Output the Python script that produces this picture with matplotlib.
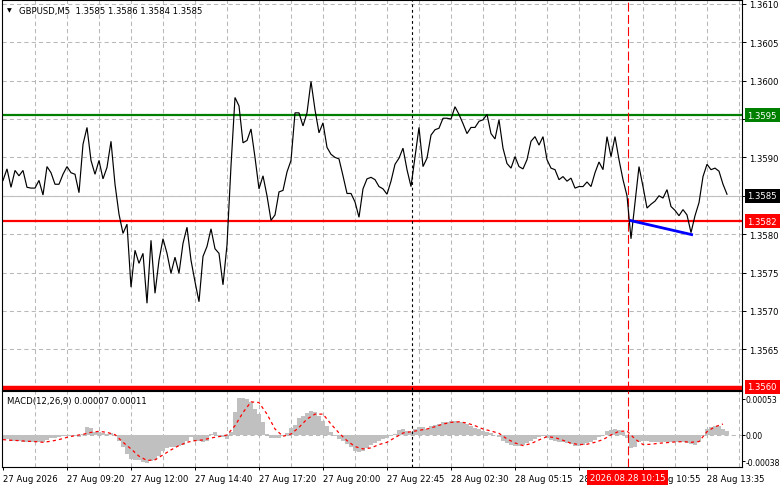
import numpy as np
import matplotlib
matplotlib.use('Agg')
import matplotlib.pyplot as plt
import matplotlib.transforms as mtransforms

plt.rcParams['font.family'] = ['DejaVu Sans']
plt.rcParams['axes.unicode_minus'] = False

# ---------------- data ----------------
symbol_title = "GBPUSD,M5  1.3585 1.3586 1.3584 1.3585"
macd_title = "MACD(12,26,9) 0.00007 0.00011"

price_step_bars = 2   # one sample every 2 M5 bars
close_prices = [
    1.35870, 1.35885, 1.35861, 1.35883, 1.35876, 1.35883, 1.35861, 1.35860, 1.35860, 1.35870,
    1.35851, 1.35888, 1.35880, 1.35865, 1.35865, 1.35878, 1.35888, 1.35880, 1.35878, 1.35854,
    1.35917, 1.35939, 1.35896, 1.35878, 1.35896, 1.35872, 1.35887, 1.35921, 1.35865, 1.35826,
    1.35801, 1.35813, 1.35731, 1.35779, 1.35762, 1.35775, 1.35710, 1.35792, 1.35723, 1.35766,
    1.35794, 1.35775, 1.35749, 1.35770, 1.35749, 1.35788, 1.35809, 1.35766, 1.35738, 1.35712,
    1.35771, 1.35784, 1.35807, 1.35781, 1.35775, 1.35734, 1.35786, 1.35889, 1.35978, 1.35967,
    1.35919, 1.35922, 1.35937, 1.35900, 1.35859, 1.35876, 1.35850, 1.35818, 1.35825, 1.35855,
    1.35857, 1.35881, 1.35896, 1.35958, 1.35958, 1.35941, 1.35958, 1.35999, 1.35962, 1.35932,
    1.35945, 1.35913, 1.35904, 1.35900, 1.35898, 1.35876, 1.35853, 1.35853, 1.35842, 1.35822,
    1.35859, 1.35872, 1.35874, 1.35871, 1.35862, 1.35859, 1.35852, 1.35869, 1.35891, 1.35899,
    1.35912, 1.35884, 1.35862, 1.35901, 1.35939, 1.35888, 1.35899, 1.35929, 1.35936, 1.35938,
    1.35951, 1.35951, 1.35950, 1.35966, 1.35956, 1.35944, 1.35931, 1.35939, 1.35939, 1.35947,
    1.35949, 1.35956, 1.35931, 1.35924, 1.35949, 1.35912, 1.35892, 1.35886, 1.35901, 1.35888,
    1.35885, 1.35897, 1.35921, 1.35927, 1.35916, 1.35927, 1.35897, 1.35886, 1.35884, 1.35871,
    1.35875, 1.35869, 1.35873, 1.35860, 1.35862, 1.35862, 1.35868, 1.35862, 1.35880, 1.35894,
    1.35884, 1.35927, 1.35901, 1.35927, 1.35897, 1.35871, 1.35850, 1.35794, 1.35841, 1.35888,
    1.35862, 1.35834, 1.35839, 1.35843, 1.35850, 1.35847, 1.35858, 1.35836, 1.35831, 1.35824,
    1.35832, 1.35825, 1.35802, 1.35824, 1.35841, 1.35875, 1.35891, 1.35884, 1.35886, 1.35882,
    1.35865, 1.35852,
]

# MACD histogram (units of 1e-5), one sample every 2 bars
macd_hist_e5 = [
    -5.8, -5.8, -8.2, -8.7, -9.1, -9.6, -9.6, -10.6, -10.6, -10.6,
    -9.6, -6.7, -4.8, -3.8, -3.4, -1.9, -1.0, -1.0, -1.9, -3.4,
    1.4, 11.1, 9.6, 3.8, 3.8, 2.9, 1.4, 2.4, -1.0, -8.2,
    -17.8, -27.4, -34.6, -36.1, -37.0, -39.4, -40.4, -38.5, -37.0, -29.8,
    -22.6, -19.2, -17.8, -16.8, -15.4, -13.9, -8.2, -3.4, -8.2, -9.1,
    -10.6, -8.2, 1.4, 3.8, -1.0, -3.4, -5.8, 3.8, 32.7, 54.4,
    54.4, 52.9, 48.1, 37.5, 30.3, 19.2, 1.4, -4.3, -4.8, -4.3,
    -1.0, 2.4, 10.1, 14.9, 24.1, 27.9, 31.3, 35.1, 33.7, 27.9,
    20.7, 12.5, 4.8, -1.0, -5.8, -8.2, -13.0, -16.8, -22.6, -25.0,
    -22.6, -19.2, -14.4, -11.5, -8.2, -5.8, -4.3, -1.0, 1.4, 7.7,
    8.7, 6.3, 3.8, 8.7, 11.1, 11.1, 8.7, 13.5, 14.4, 15.9,
    18.3, 19.2, 19.7, 19.7, 19.2, 18.3, 15.9, 13.5, 10.6, 8.7,
    6.3, 3.8, 2.4, 0.5, -3.4, -8.2, -11.5, -13.9, -15.4, -15.4,
    -14.4, -11.5, -8.2, -5.8, -3.4, -1.9, -4.8, -7.2, -8.2, -9.6,
    -10.6, -12.0, -13.5, -15.4, -15.4, -14.4, -11.5, -9.6, -6.7, -3.4,
    0.0, 6.3, 7.7, 8.7, 7.7, 3.8, -4.8, -19.2, -17.8, -10.6,
    -8.2, -9.1, -9.6, -9.6, -10.1, -10.6, -10.6, -10.6, -10.1, -9.6,
    -9.6, -11.5, -13.5, -13.9, -9.6, -1.9, 8.7, 11.5, 13.5, 13.5,
    8.7, 6.3,
]

# MACD signal line (units of 1e-5), one sample every 4 bars
signal_step_bars = 4
macd_signal_e5 = [
    -6.7, -7.7, -8.2, -9.1, -9.6, -10.6, -9.1, -6.7, -3.4, -1.0,
    1.0, 3.8, 5.3, 3.8, 0.5, -10.6, -20.2, -30.8, -37.0, -36.1,
    -28.9, -21.6, -15.4, -10.6, -8.2, -7.2, -4.3, -2.4, 0.0, 13.5,
    32.7, 48.1, 47.1, 30.3, 8.7, -1.9, 1.4, 11.1, 23.1, 30.3,
    30.3, 15.9, 2.9, -8.2, -16.8, -20.2, -18.8, -13.9, -10.6, -3.8,
    2.9, 4.8, 6.7, 8.7, 12.0, 15.9, 18.3, 19.2, 17.3, 13.5,
    8.7, 5.8, 2.4, -5.8, -11.5, -15.4, -12.5, -7.2, -2.4, -3.8,
    -7.7, -12.0, -13.9, -13.5, -10.6, -6.7, 0.0, 5.3, 5.8, -5.8,
    -13.9, -13.5, -12.0, -11.1, -10.1, -9.6, -10.6, -9.6, 4.8, 12.0,
    15.9,
]

time_tick_bars = [0, 32, 64, 96, 128, 160, 192, 224, 256, 288, 320, 352]
time_tick_labels = ['27 Aug 2026', '27 Aug 09:20', '27 Aug 12:00', '27 Aug 14:40',
                    '27 Aug 17:20', '27 Aug 20:00', '27 Aug 22:45', '28 Aug 02:30',
                    '28 Aug 05:15', '28 Aug 07:55', '28 Aug 10:55', '28 Aug 13:35']

price_ticks = [1.3565, 1.3570, 1.3575, 1.3580, 1.3585, 1.3590, 1.3595, 1.3600, 1.3605, 1.3610]
price_tick_labels = ['1.3565', '1.3570', '1.3575', '1.3580', '', '1.3590', '', '1.3600', '1.3605', '1.3610']
macd_ticks = [0.00053, 0.0, -0.00038]
macd_tick_labels = ['0.00053', '0.00', '-0.00038']

resistance_level = 1.35955
resistance_label = '1.3595'
support_level = 1.35817
support_label = '1.3582'
bid_level = 1.3585
bid_label = '1.3585'
low_level = 1.3560
low_label = '1.3560'

trend_bars = [313.3, 345.0]
trend_prices = [1.35818, 1.35799]

cursor_bar = 312.25
cursor_label = '2026.08.28 10:15'
separator_bar = 204.25

# ---------------- figure ----------------
W, H = 781, 489
fig = plt.figure(figsize=(W / 100, H / 100), dpi=100)
fig.patch.set_facecolor('white')

def frac_rect(x0, y0, x1, y1):
    return [x0 / W, 1 - y1 / H, (x1 - x0) / W, (y1 - y0) / H]

ax = fig.add_axes(frac_rect(2, 1, 742, 391))
axm = fig.add_axes(frac_rect(2, 392, 742, 468))

xlim = (-0.5, 369.5)
grid_color = '#b8b8b8'
grid_bars = np.arange(16, 370, 16)

for a in (ax, axm):
    a.set_xlim(*xlim)
    for s in a.spines.values():
        s.set_color('black')
        s.set_linewidth(0.8)
    for gb in grid_bars:
        a.axvline(gb, color=grid_color, lw=0.75, dashes=(4, 3), zorder=0.5)

ax.set_ylim(1.35597, 1.36105)
axm.set_ylim(-0.000465, 0.000639)

# horizontal grid
for pt in price_ticks:
    ax.axhline(pt, color=grid_color, lw=0.75, dashes=(4, 3), zorder=0.5)
axm.axhline(0.0, color=grid_color, lw=0.75, dashes=(4, 3), zorder=0.5)

# price series
px = np.arange(len(close_prices)) * price_step_bars
ax.plot(px, close_prices, color='black', lw=0.85, zorder=3, solid_joinstyle='miter')

# levels
ax.axhline(bid_level, color='#c0c0c0', lw=0.8, zorder=1)
ax.axhline(resistance_level, color='#008000', lw=1.6, zorder=2)
ax.axhline(support_level, color='#ff0000', lw=1.6, zorder=2)
ax.axhline(low_level, color='#ff0000', lw=3.2, zorder=2)

# trend line
ax.plot(trend_bars, trend_prices, color='#0000ff', lw=2.0, zorder=4, solid_capstyle='butt')

# vertical lines
for a in (ax, axm):
    a.axvline(cursor_bar, color='#ff0000', lw=0.8, dashes=(8, 3), zorder=2.6)
    a.axvline(separator_bar, color='black', lw=0.8, dashes=(2.5, 2.5), zorder=2.6)

# MACD
hx = np.arange(len(macd_hist_e5)) * price_step_bars
axm.bar(hx, np.array(macd_hist_e5) * 1e-5, width=price_step_bars, color='#c0c0c0',
        linewidth=0, zorder=1)
sx = np.arange(len(macd_signal_e5)) * signal_step_bars
axm.plot(sx, np.array(macd_signal_e5) * 1e-5, color='#ff0000', lw=0.9,
         dashes=(2.5, 2.5), zorder=3)

fs = 6.1
# ticks main
ax.set_xticks([])
ax.yaxis.tick_right()
ax.set_yticks(price_ticks)
ax.set_yticklabels(price_tick_labels, fontsize=fs)
ax.tick_params(axis='y', direction='out', length=3, width=0.7, pad=2, colors='black')

axm.yaxis.tick_right()
axm.set_yticks(macd_ticks)
axm.set_yticklabels(macd_tick_labels, fontsize=5.6)
axm.tick_params(axis='y', direction='out', length=2, width=0.7, pad=0.6, colors='black')

axm.set_xticks(time_tick_bars)
axm.set_xticklabels(time_tick_labels, fontsize=fs)
axm.tick_params(axis='x', direction='out', length=2.5, width=0.7, pad=2.5, colors='black')
for lab in axm.get_xticklabels():
    lab.set_ha('left')

# boxed price labels on right axis
trans_r = mtransforms.blended_transform_factory(ax.transAxes, ax.transData)
for lvl, lab, col in [(resistance_level, resistance_label, '#008000'),
                      (bid_level, bid_label, 'black'),
                      (support_level, support_label, '#ff0000'),
                      (low_level + 0.00001, low_label, '#ff0000')]:
    ax.text(1.0 + 5.5 / 740, lvl, lab, transform=trans_r, ha='left', va='center',
            fontsize=fs, color='white', zorder=10, clip_on=False,
            bbox=dict(boxstyle='square,pad=0.3', fc=col, ec='none'))

# cursor time label
trans_b = mtransforms.blended_transform_factory(axm.transData, axm.transAxes)
axm.text(cursor_bar, -10.5 / 76, cursor_label, transform=trans_b, ha='center', va='center',
         fontsize=fs, color='white', zorder=10, clip_on=False,
         bbox=dict(boxstyle='square,pad=0.3', fc='#ff0000', ec='none'))

# titles
ax.text(5 / 740, 1 - 10 / 390, '\u25bc', transform=ax.transAxes, fontsize=4.5,
        ha='left', va='center', color='black', zorder=10)
ax.text(17 / 740, 1 - 10 / 390, symbol_title, transform=ax.transAxes, fontsize=fs,
        ha='left', va='center', color='black', zorder=10)
axm.text(5 / 740, 1 - 10 / 76, macd_title, transform=axm.transAxes, fontsize=fs,
         ha='left', va='center', color='black', zorder=10)

fig.savefig('out.png', dpi=100, facecolor='white')
